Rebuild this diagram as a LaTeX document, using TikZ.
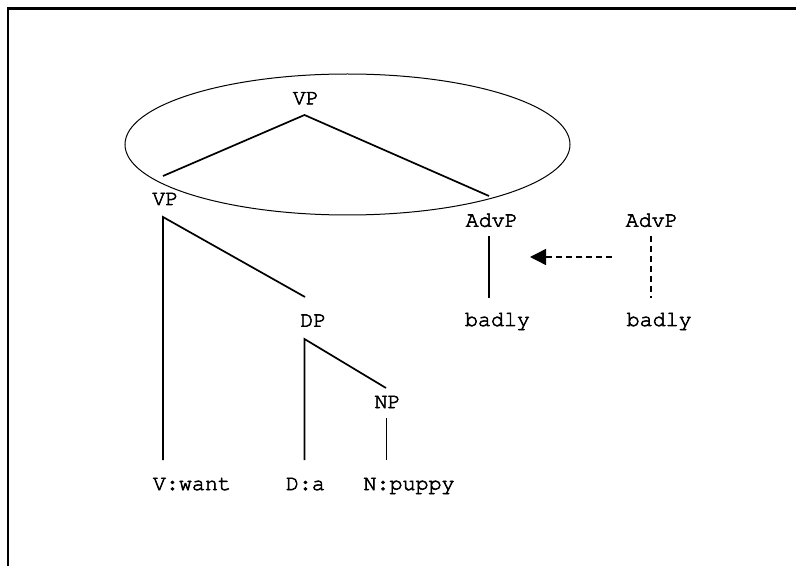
\documentclass[tikz,border=0pt]{standalone}
\usepackage[T1]{fontenc}
\newcommand{\courfont}{\fontencoding{T1}\fontfamily{pcr}\selectfont}
\newcommand{\lbltxt}[1]{\special{pdf:literal 2 Tr 0.55 w}#1\special{pdf:literal 0 Tr}}
\usetikzlibrary{arrows.meta}
\tikzset{
  lbl/.style={font=\courfont\fontsize{21.7}{24}\selectfont, inner sep=0pt, anchor=base},
  lblw/.style={lbl, anchor=base west},
  branch/.style={line width=1.7pt},
  thinbranch/.style={line width=0.9pt},
  dashbranch/.style={line width=1.4pt, dash pattern=on 6pt off 4pt},
  frame/.style={line width=2.6pt},
}
\begin{document}
\begin{tikzpicture}[x=1pt,y=-1pt]
\useasboundingbox (0,0) rectangle (796,572);
% frame
\coordinate (fr1) at (796,8.5);
\coordinate (fr2) at (8,8.5);
\coordinate (fr3) at (8,566);
\draw[frame] (fr1) -- (fr2) -- (fr3);
% ellipse
\draw[line width=1pt] (347.5,144.5) ellipse [x radius=222.5pt, y radius=70.5pt];
% labels
\node[lbl] (vpT) at (305.8,104.3) {\lbltxt{VP}};
\node[lbl] (vpL) at (165.3,205) {\lbltxt{VP}};
\node[lbl] (dp) at (313.3,326.7) {\lbltxt{DP}};
\node[lbl] (np) at (387.5,408) {\lbltxt{NP}};
\node[lbl] (advL) at (491.7,226.7) {\lbltxt{AdvP}};
\node[lbl] (advR) at (651.7,226.7) {\lbltxt{AdvP}};
\node[lbl] (badL) at (497.5,326) {\lbltxt{badly}};
\node[lbl] (badR) at (659.2,326) {\lbltxt{badly}};
\node[lblw] (vw) at (152.7,490) {\lbltxt{V:want}};
\node[lblw] (da) at (285.7,490) {\lbltxt{D:a}};
\node[lblw] (npu) at (363.3,490) {\lbltxt{N:puppy}};
% branch points
\coordinate (a1) at (304.5,115);
\coordinate (b1) at (163,176);
\coordinate (c1) at (489,196);
\coordinate (a2) at (163,217);
\coordinate (b2) at (163,460);
\coordinate (c2) at (305,297);
\coordinate (a3) at (304.5,339);
\coordinate (b3) at (304.5,460);
\coordinate (c3) at (386,388);
\coordinate (a4) at (386,418);
\coordinate (b4) at (386,460);
\coordinate (a5) at (489,236);
\coordinate (b5) at (489,298);
\coordinate (a6) at (651,236);
\coordinate (b6) at (651,298);
\coordinate (ar1) at (612,257);
\coordinate (ar2) at (530,257);
% branches
\draw[branch] (b1) -- (a1) -- (c1);
\draw[branch] (b2) -- (a2) -- (c2);
\draw[branch] (b3) -- (a3) -- (c3);
\draw[thinbranch] (a4) -- (b4);
\draw[branch] (a5) -- (b5);
\draw[dashbranch] (a6) -- (b6);
\draw[dashbranch, -{Triangle[length=16pt,width=16pt]}] (ar1) -- (ar2);
\end{tikzpicture}
\end{document}
